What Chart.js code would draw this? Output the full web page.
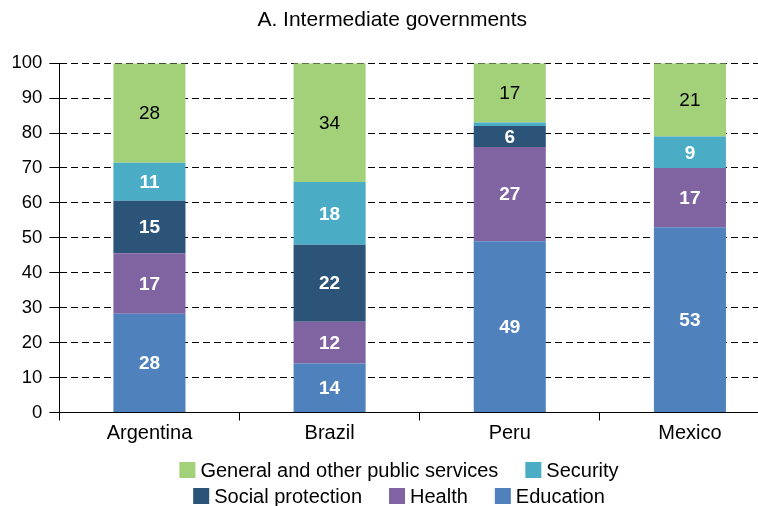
<!DOCTYPE html>
<html>
<head>
<meta charset="utf-8">
<script src="https://cdn.jsdelivr.net/npm/chart.js@4.4.1/dist/chart.umd.min.js"></script>
<style>
    html, body { margin: 0; padding: 0; background: #fff; overflow: hidden; }
    #wrap { width: 758px; height: 506px; overflow: hidden; }
</style>
</head>
<body>
<div id="wrap"><canvas id="chart" width="780" height="506"></canvas></div>
<script>
// data, bottom segment first
const countries = ['Argentina', 'Brazil', 'Peru', 'Mexico']
const education = [28.3, 14, 49, 53]
const health = [17.3, 12, 27, 17]
const socialProtection = [15.0, 22, 6, 0]
const security = [10.9, 18, 1, 9]
const generalServices = [28.4, 34, 17, 21]

const FONT = "'Liberation Sans', Arial, sans-serif"

// legend rows as in the original (by dataset label)
const legendRows = [
    ['General and other public services', 'Security'],
    ['Social protection', 'Health', 'Education'],
]

const segmentLabels = {
    id: 'segmentLabels',
    afterDatasetsDraw(chart) {
        const ctx = chart.ctx
        chart.data.datasets.forEach((ds, i) => {
            const meta = chart.getDatasetMeta(i)
            meta.data.forEach((bar, j) => {
                const v = ds.data[j]
                if (v < 3) return
                ctx.save()
                ctx.font = (ds.darkLabel ? '' : 'bold ') + '19px ' + FONT
                ctx.fillStyle = ds.darkLabel ? '#000' : '#fff'
                ctx.textAlign = 'center'
                ctx.textBaseline = 'middle'
                ctx.fillText(String(Math.round(v)), bar.x, (bar.y + bar.base) / 2 + 1)
                ctx.restore()
            })
        })
    },
}

const rowLegend = {
    id: 'rowLegend',
    afterDraw(chart) {
        const ctx = chart.ctx
        const box = 16
        const gapText = 5
        const gapItem = 27
        const centerX = 399
        const rowY = [470, 496]
        ctx.save()
        ctx.font = '20px ' + FONT
        ctx.textBaseline = 'middle'
        legendRows.forEach((row, r) => {
            const items = row.map((label) => {
                const ds = chart.data.datasets.find((d) => d.label === label)
                return { label, color: ds.backgroundColor, w: box + gapText + ctx.measureText(label).width }
            })
            const total = items.reduce((s, it) => s + it.w, 0) + gapItem * (items.length - 1)
            let x = centerX - total / 2
            items.forEach((it) => {
                ctx.fillStyle = it.color
                ctx.fillRect(x, rowY[r] - box / 2, box, box)
                ctx.fillStyle = '#000'
                ctx.fillText(it.label, x + box + gapText, rowY[r] + 1)
                x += it.w + gapItem
            })
        })
        ctx.restore()
    },
}

const ctx = document.getElementById('chart').getContext('2d')

new Chart(ctx, {
    type: 'bar',
    plugins: [segmentLabels, rowLegend],
    data: {
        labels: countries,
        datasets: [
            { label: 'Education', data: education, backgroundColor: '#4F81BD' },
            { label: 'Health', data: health, backgroundColor: '#8064A2' },
            { label: 'Social protection', data: socialProtection, backgroundColor: '#2C5479' },
            { label: 'Security', data: security, backgroundColor: '#4BACC6' },
            { label: 'General and other public services', data: generalServices, backgroundColor: '#A3D17A', darkLabel: true },
        ],
    },
    options: {
        responsive: false,
        animation: false,
        devicePixelRatio: 1,
        layout: { padding: { left: 4.5, right: 0, top: 0, bottom: 59.5 } },
        datasets: {
            bar: { categoryPercentage: 1, barPercentage: 0.4, borderWidth: 0 },
        },
        plugins: {
            legend: { display: false },
            tooltip: { enabled: false },
            title: {
                display: true,
                text: 'A. Intermediate governments',
                color: '#000',
                font: { family: FONT, size: 21, weight: 'normal' },
                padding: { top: 8, bottom: 30 },
            },
        },
        scales: {
            x: {
                stacked: true,
                grid: {
                    offset: true,
                    drawOnChartArea: false,
                    tickLength: 8,
                    color: '#000',
                },
                border: { color: '#000', width: 1 },
                ticks: {
                    color: '#000',
                    padding: 1,
                    font: { family: FONT, size: 20 },
                },
            },
            y: {
                stacked: true,
                min: 0,
                max: 100,
                grid: {
                    color: '#000',
                    tickLength: 10,
                    tickBorderDash: [],
                },
                border: { color: '#000', width: 1, dash: [7, 4] },
                ticks: {
                    stepSize: 10,
                    color: '#000',
                    padding: 7,
                    font: { family: FONT, size: 18.5 },
                },
            },
        },
    },
})
</script>
</body>
</html>
